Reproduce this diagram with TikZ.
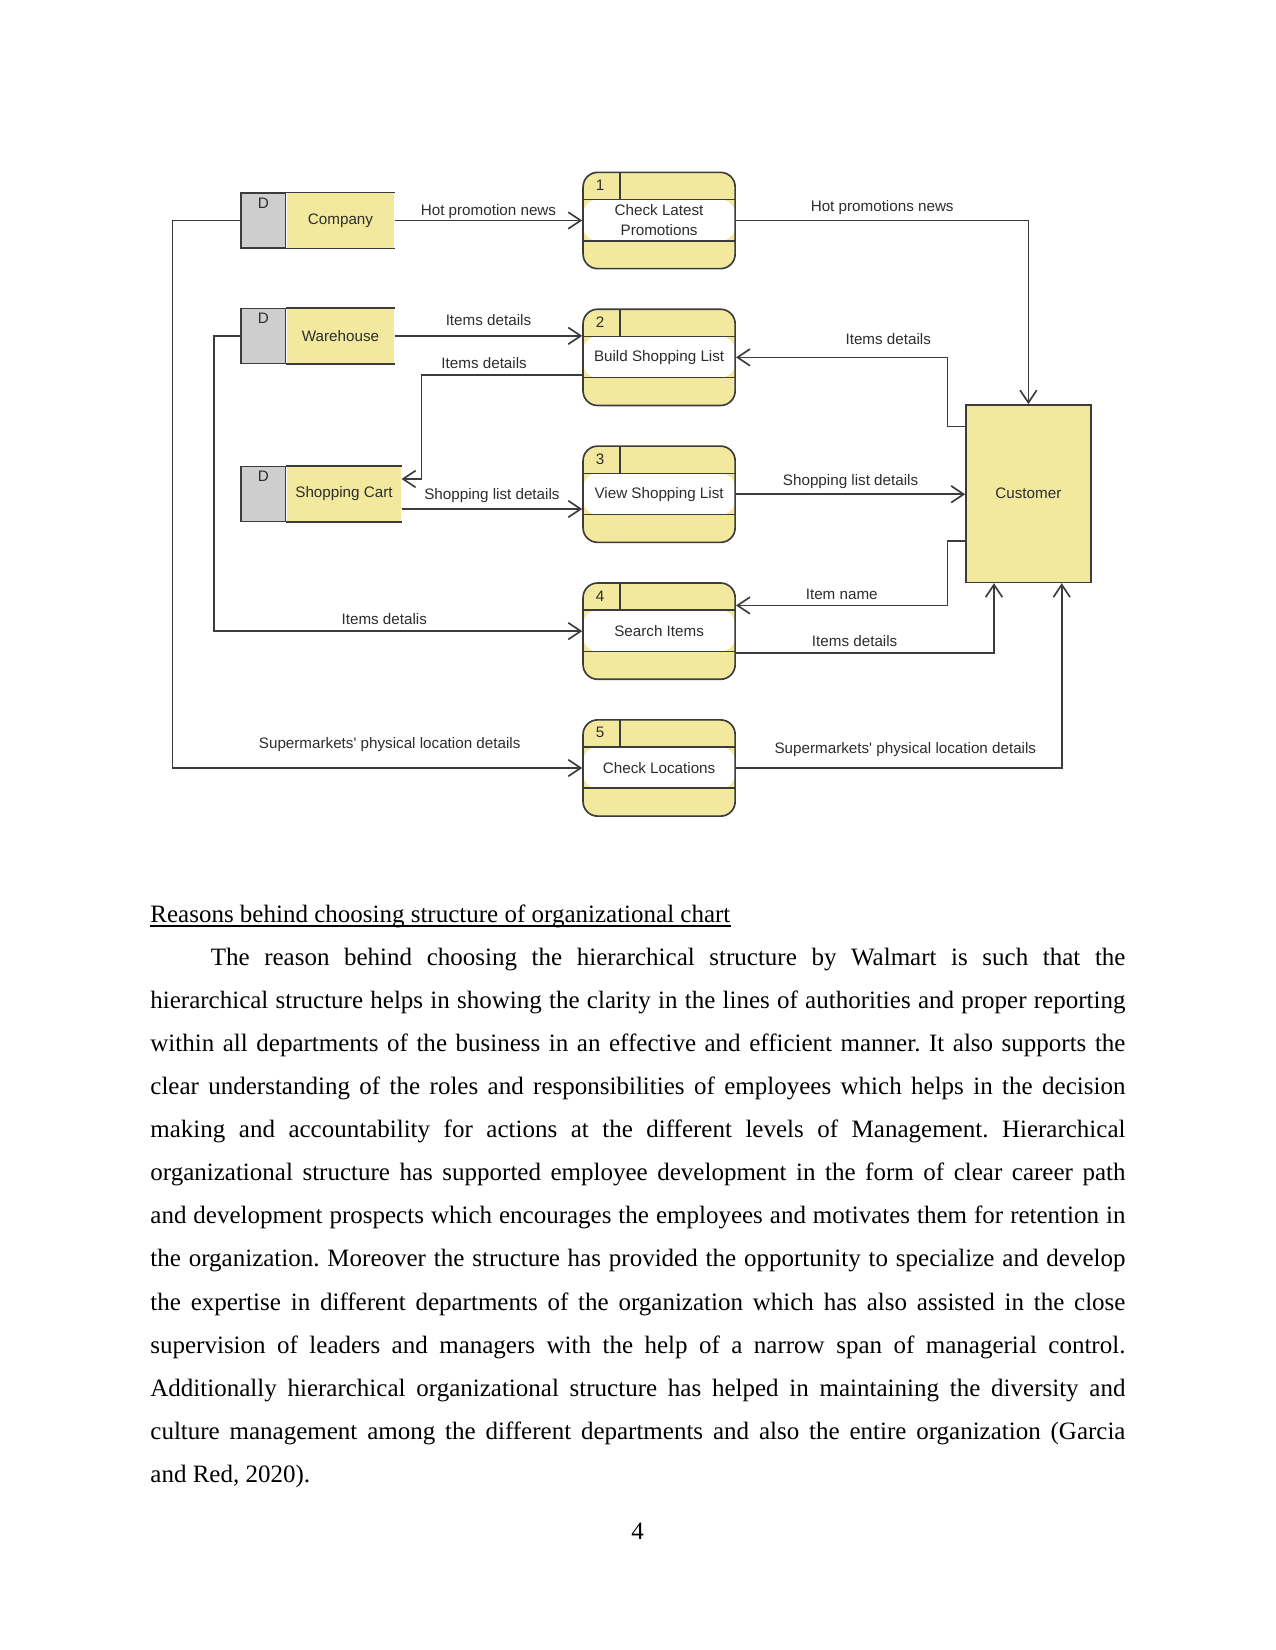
\documentclass[tikz,border=0pt]{standalone}
\usepackage{fontspec}
\setmainfont{Liberation Serif}
\newfontfamily\dfdfont{Liberation Sans}
\usetikzlibrary{positioning,calc,arrows.meta}
\definecolor{dfdyellow}{RGB}{242,233,158}
\definecolor{dfdgray}{RGB}{206,206,206}
\definecolor{dfdline}{RGB}{60,60,60}
\definecolor{dfdtext}{RGB}{45,45,45}

\begin{document}
\begin{tikzpicture}[x=0.48pt, y=-0.48pt, >={Straight Barb[length=6pt,width=8pt]},
    every node/.style={font=\dfdfont\fontsize{7.3}{9.6}\selectfont, text=dfdtext},
    store/.style={fill=dfdyellow, minimum height=26.4pt, inner sep=0pt},
    storeD/.style={draw=dfdline, fill=dfdgray, line width=0.8pt, minimum width=21.3pt,
        minimum height=26.4pt, inner sep=0pt, label={[below, inner sep=2.5pt]north:D}},
    process/.style={draw=dfdline, fill=dfdyellow, line width=0.8pt, rounded corners=7pt,
        minimum width=73pt, minimum height=46.2pt, inner sep=0pt, align=center,
        path picture={
          \fill[white] ([yshift=-13.1pt]path picture bounding box.north west)
                 rectangle ([yshift=-32.8pt]path picture bounding box.north east);
          \draw[dfdline, line width=0.8pt]
            ([yshift=-13.1pt]path picture bounding box.north west) -- ([yshift=-13.1pt]path picture bounding box.north east)
            ([yshift=-32.8pt]path picture bounding box.north west) -- ([yshift=-32.8pt]path picture bounding box.north east)
            ([xshift=17.8pt]path picture bounding box.north west) -- ([xshift=17.8pt,yshift=-13.1pt]path picture bounding box.north west);
        }},
    num/.style={label={[anchor=center, inner sep=0pt, xshift=8.6pt, yshift=-6.6pt]north west:#1}},
    entity/.style={draw=dfdline, fill=dfdyellow, line width=0.8pt, minimum width=59.9pt, minimum height=85.1pt},
    flow/.style={draw=dfdline, line width=0.8pt, ->},
    lbl/.style={above, inner sep=2.5pt}]

\useasboundingbox (0,0) rectangle (1275,1650);

% data stores
\node[store, minimum width=51.6pt] (company) at (340.5,220.5) {Company};
\node[storeD, left=0pt of company] (companyD) {};
\node[store, minimum width=51.6pt] (warehouse) at (340.5,335.9) {Warehouse};
\node[storeD, left=0pt of warehouse] (warehouseD) {};
\node[store, minimum width=54.9pt] (cart) at (344,494) {Shopping Cart};
\node[storeD, left=0pt of cart] (cartD) {};
\foreach \s in {company,warehouse,cart}
  \draw[dfdline, line width=0.8pt] (\s.north west) -- (\s.north east) (\s.south west) -- (\s.south east);

% processes
\node[process, num=1] (p1) at (659.1,220.5) {Check Latest\\Promotions};
\node[process, num=2, below=18.7pt of p1] (p2) {Build Shopping List};
\node[process, num=3, below=18.7pt of p2] (p3) {View Shopping List};
\node[process, num=4, below=18.7pt of p3] (p4) {Search Items};
\node[process, num=5, below=18.7pt of p4] (p5) {Check Locations};

% external entity
\node[entity] (customer) at (1028.4,493.7) {Customer};

% flows
\draw[flow] (company.east) -- node[lbl, yshift=-2pt]{Hot promotion news} (company.east -| p1.west);
\draw[flow] (p1.east) -| node[lbl, pos=0.25]{Hot promotions news} (customer.north);
\draw[flow] (warehouse.east) -- node[lbl, yshift=2pt]{Items details} (warehouse.east -| p2.west);
\draw[flow] ($(p2.west)+(0,17.3)$) -- node[lbl, pos=0.61]{Items details} ++(-160.8,0) |- ($(cart.east)+(0,-15)$);
\draw[flow] ($(cart.east)+(0,15)$) coordinate (cartout) -- node[lbl]{Shopping list details} (cartout -| p3.west);
\draw[flow] (p3.east) -- node[lbl]{Shopping list details} (p3.east -| customer.west);
\draw[flow] ($(customer.north west)+(0,22.3)$) -- ++(-17.7,0) |- node[lbl, pos=0.64, yshift=3pt]{Items details} (p2.east);
\draw[flow] ($(customer.west)+(0,47)$) -- ++(-17.7,0) |- node[lbl, pos=0.75]{Item name} ($(p4.east)+(0,-25.7)$);
\draw[flow] ($(p4.east)+(0,21.7)$) -| node[lbl, pos=0.23]{Items details} ($(customer.south)+(-34.4,0)$);
\draw[flow] (p5.east) -| node[lbl, pos=0.26, yshift=2.5pt]{Supermarkets' physical location details} ($(customer.south)+(33.3,0)$);
\draw[flow] (companyD.west) -- ++(-67.7,0) |- node[lbl, pos=0.765, yshift=5pt]{Supermarkets' physical location details} (p5.west);
\draw[flow] (warehouseD.west) -- ++(-26,0) |- node[lbl, pos=0.731]{Items detalis} (p4.west);

% page text
\node[anchor=base west, inner sep=0pt, text=black, font=\rmfamily\fontsize{12}{20.7}\selectfont] (heading) at (150,922)
  {Reasons behind choosing structure of organizational chart};
\draw[black, line width=0.55pt] ($(heading.base west)+(0,4)$) -- ($(heading.base east)+(0,4)$);
\node[anchor=base west, inner sep=0pt, text=black, text width=468pt, align=justify,
      font=\rmfamily\fontsize{12}{20.7}\selectfont] (body) at (150,965)
  {\frenchspacing\tolerance=10000\hyphenpenalty=10000\hspace*{29pt}The reason behind choosing the hierarchical structure by Walmart is such that the\linebreak
   hierarchical structure helps in showing the clarity in the lines of authorities and proper reporting\linebreak
   within all departments of the business in an effective and efficient manner. It also supports the\linebreak
   clear understanding of the roles and responsibilities of employees which helps in the decision\linebreak
   making and accountability for actions at the different levels of Management. Hierarchical\linebreak
   organizational structure has supported employee development in the form of clear career path\linebreak
   and development prospects which encourages the employees and motivates them for retention in\linebreak
   the organization. Moreover the structure has provided the opportunity to specialize and develop\linebreak
   the expertise in different departments of the organization which has also assisted in the close\linebreak
   supervision of leaders and managers with the help of a narrow span of managerial control.\linebreak
   Additionally hierarchical organizational structure has helped in maintaining the diversity and\linebreak
   culture management among the different departments and also the entire organization (Garcia\linebreak
   and Red, 2020).};
\node[anchor=base, inner sep=0pt, text=black, font=\rmfamily\fontsize{12}{14}\selectfont] (pagenum) at (637.5,1539) {4};
\end{tikzpicture}
\end{document}
